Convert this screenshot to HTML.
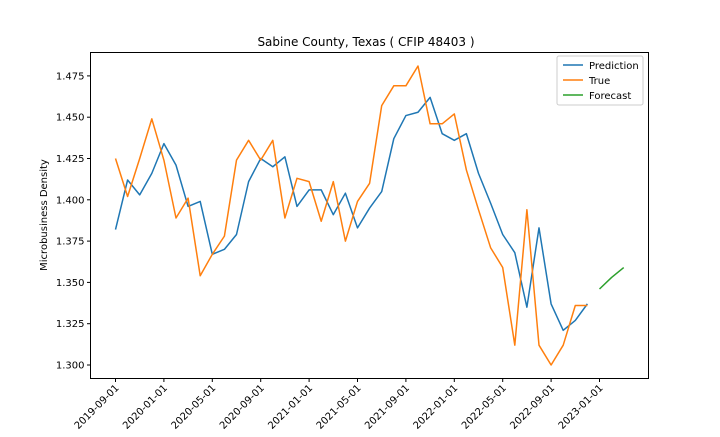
<!DOCTYPE html>
<html><head><meta charset="utf-8"><style>
body{margin:0;background:#fff;font-family:"Liberation Sans","DejaVu Sans",sans-serif;}
svg text{font-family:"DejaVu Sans","Liberation Sans",sans-serif;}
</style></head><body>
<svg id="chart" width="720" height="432" xmlns="http://www.w3.org/2000/svg">
<rect width="720" height="432" fill="#fff"/>
<text x="366" y="46" font-size="12" text-anchor="middle">Sabine County, Texas ( CFIP 48403 )</text>
<g id="plot"></g>
<text transform="translate(47,215) rotate(-90)" font-size="10" text-anchor="middle">Microbusiness Density</text>
<g>
<rect x="557" y="56" width="86" height="49" fill="#fff" stroke="#ccc" rx="2"/>
<line x1="563" y1="65" x2="583" y2="65" stroke="#1f77b4" stroke-width="1.5"/>
<text x="589" y="69" font-size="10">Prediction</text>
<line x1="563" y1="80" x2="583" y2="80" stroke="#ff7f0e" stroke-width="1.5"/>
<text x="589" y="84" font-size="10">True</text>
<line x1="563" y1="95" x2="583" y2="95" stroke="#2ca02c" stroke-width="1.5"/>
<text x="589" y="99" font-size="10">Forecast</text>
</g>
</svg>
<script>
const prediction=[1.382,1.412,1.403,1.416,1.434,1.421,1.396,1.399,1.367,1.370,1.379,1.411,1.425,1.420,1.426,1.396,1.406,1.406,1.391,1.404,1.383,1.395,1.405,1.437,1.451,1.453,1.462,1.440,1.436,1.440,1.416,1.398,1.379,1.368,1.335,1.383,1.337,1.321,1.327,1.337];
const trueVals=[1.425,1.402,1.425,1.449,1.424,1.389,1.401,1.354,1.367,1.378,1.424,1.436,1.424,1.436,1.389,1.413,1.411,1.387,1.411,1.375,1.399,1.410,1.457,1.469,1.469,1.481,1.446,1.446,1.452,1.418,1.394,1.371,1.359,1.312,1.394,1.312,1.300,1.312,1.336,1.336];
const forecast=[1.346,1.353,1.359];
const forecastStart=40;
const yTicks=[1.300,1.325,1.350,1.375,1.400,1.425,1.450,1.475];
const xTickLabels=["2019-09-01","2020-01-01","2020-05-01","2020-09-01","2021-01-01","2021-05-01","2021-09-01","2022-01-01","2022-05-01","2022-09-01","2023-01-01"];
const xTickMonths=[0,4,8,12,16,20,24,28,32,36,40];

const L=90.5,R=648.5,T=52.5,B=378.5;
const xs=m=>115.5+m*12.1;
const ys=v=>365-(v-1.3)/0.025*41.3;
const ns="http://www.w3.org/2000/svg";
const g=document.getElementById('plot');
function el(t,a){const e=document.createElementNS(ns,t);for(const k in a)e.setAttribute(k,a[k]);g.appendChild(e);return e;}
const frame=el('rect',{x:L,y:T,width:R-L,height:B-T,fill:'none',stroke:'#000','stroke-width':1});


yTicks.forEach(v=>{const y=ys(v);
 const t=el('line',{x1:L-3.5,x2:L,y1:y,y2:y,stroke:'#000'});
 
 
 const tx=el('text',{x:L-6,y:y+3.5,'font-size':10,'text-anchor':'end'});tx.textContent=v.toFixed(3);
 
 
});
xTickMonths.forEach((m,i)=>{const x=xs(m);
 const t=el('line',{x1:x,x2:x,y1:B,y2:B+3.5,stroke:'#000'});
 
 
 const tx=el('text',{x:0,y:0,'font-size':10,'text-anchor':'end',transform:`translate(${x+4},${B+10}) rotate(-45)`});tx.textContent=xTickLabels[i];
 
 
});
function line(arr,off,color,name){
 const p=el('polyline',{points:arr.map((v,i)=>xs(i+off)+','+ys(v)).join(' '),fill:'none',stroke:color,'stroke-width':1.5,'stroke-linejoin':'round'});
 
 
}
line(prediction,0,'#1f77b4','prediction-line');
line(trueVals,0,'#ff7f0e','true-line');
line(forecast,forecastStart,'#2ca02c','forecast-line');
</script>
</body></html>
